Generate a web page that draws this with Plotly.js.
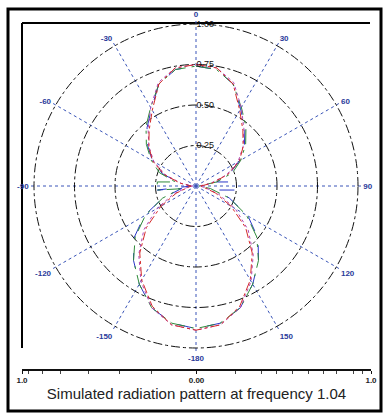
<!DOCTYPE html>
<html>
<head>
<meta charset="utf-8">
<script src="https://cdn.plot.ly/plotly-3.0.1.min.js"></script>
<style>html,body{margin:0;padding:0;background:#fff;}#chart{width:387px;height:414px;}</style>
</head>
<body>
<div id="chart"></div>
<script>
// angles in degrees, clockwise from top (0 = top, 180 = bottom)
const theta = [0,10,20,30,40,50,60,70,80,90,100,110,120,130,140,150,160,170,180,
               190,200,210,220,230,240,250,260,270,280,290,300,310,320,330,340,350,360];
const redR     = [0.75,0.74,0.67,0.54,0.45,0.38,0.31,0.21,0.10,0.03,0.05,0.13,0.25,0.40,0.54,0.67,0.79,0.87,0.89,
                  0.87,0.79,0.67,0.54,0.40,0.25,0.13,0.05,0.03,0.10,0.21,0.31,0.38,0.45,0.54,0.67,0.74,0.75];
const magentaR = [0.75,0.74,0.68,0.56,0.46,0.38,0.30,0.20,0.09,0.02,0.06,0.15,0.28,0.42,0.55,0.68,0.80,0.87,0.89,
                  0.87,0.80,0.68,0.55,0.42,0.28,0.15,0.06,0.02,0.09,0.20,0.30,0.38,0.46,0.56,0.68,0.74,0.75];
const greenTheta = [0,10,20,30,40,50,60,70,79,84,90,100,110,120,130,140,150,160,170,180,
                    190,200,210,220,230,240,250,260,264,270,276,281,290,300,310,320,330,340,350,360];
const greenR   = [0.74,0.73,0.67,0.56,0.48,0.40,0.32,0.24,0.13,0.03,0.02,0.09,0.22,0.36,0.49,0.60,0.70,0.80,0.86,0.88,
                  0.86,0.80,0.70,0.60,0.49,0.36,0.22,0.10,0.24,0.24,0.24,0.13,0.24,0.32,0.40,0.48,0.56,0.67,0.73,0.74];
const blueTheta = [0,10,20,30,40,50,60,70,79,84,90,96,101,110,120,130,140,150,160,170,180,
                   190,200,210,220,230,240,250,260,264,270,280,290,300,310,320,330,340,350,360];
const blueR    = [0.74,0.73,0.67,0.55,0.47,0.39,0.31,0.22,0.13,0.24,0.24,0.24,0.13,0.22,0.37,0.50,0.60,0.70,0.80,0.86,0.88,
                  0.86,0.80,0.70,0.60,0.50,0.37,0.22,0.09,0.24,0.03,0.10,0.22,0.31,0.39,0.47,0.55,0.67,0.73,0.74];

const radialTicks = [0.25,0.5,0.75,1.0];
const radialTickText = ['0.25','0.50','0.75','1.00'];
const angleTicks = [0,30,60,90,120,150,180,210,240,270,300,330];
const angleTickText = ['0','30','60','90','120','150','-180','-150','-120','-90','-60','-30'];
const rulerVals = [-1,0,1];
const rulerText = ['1.0','0.00','1.0'];
const rulerMinor = [-1,-0.96,-0.885,-0.78,-0.62,-0.44,-0.26,0.224,0.37,0.46,0.55,0.64,0.73,0.80,0.897,0.95,1];
const chartTitle = 'Simulated radiation pattern at frequency 1.04';

const W = 387, H = 414;
const px = v => v / W, py = v => 1 - v / H;

function tr(r, th, color, dash) {
  return {type:'scatterpolar', r:r, theta:th, mode:'lines',
    line:{color:color, width:1, dash:dash}, hoverinfo:'skip', showlegend:false};
}

const data = [
  tr(blueR, blueTheta, '#2a36c8', 'longdash'),
  tr(greenR, greenTheta, '#2f8a3a', 'longdashdot'),
  tr(magentaR, theta, '#b04ab8', 'dot'),
  tr(redR, theta, '#d42a2a', 'dashdot'),
  {type:'scatter', x:[], y:[], xaxis:'x', yaxis:'y', showlegend:false, hoverinfo:'skip'}
];

const rMax = 1.03;
const cx = 196, cy = 186, R = 162 * rMax;
const layout = {
  width: W, height: H,
  margin:{l:0,r:0,t:0,b:0},
  paper_bgcolor:'#fff', plot_bgcolor:'rgba(0,0,0,0)',
  font:{family:'Liberation Sans, Arial, sans-serif', color:'#111'},
  showlegend:false,
  polar:{
    domain:{x:[px(cx-R), px(cx+R)], y:[py(cy+R), py(cy-R)]},
    bgcolor:'rgba(0,0,0,0)',
    radialaxis:{range:[0,rMax], tickvals:radialTicks, ticktext:radialTickText,
      angle:90, side:'clockwise', tickangle:90, showline:false, ticks:'',
      gridcolor:'#111', griddash:'dashdot', gridwidth:1,
      tickfont:{size:9, color:'#111'}},
    angularaxis:{rotation:90, direction:'clockwise', tickmode:'array',
      tickvals:angleTicks, ticktext:angleTickText, showline:false,
      ticks:'', gridcolor:'#3a55b8', griddash:'dot', gridwidth:1,
      tickfont:{size:8, color:'#2a3a9a', weight:'bold'}}
  },
  xaxis:{domain:[px(22), px(371)], range:[-1,1], anchor:'free', position:py(369),
    showgrid:false, zeroline:false, showline:true, linecolor:'#111', linewidth:1.5,
    tickmode:'array', tickvals:rulerVals, ticktext:rulerText, ticks:'outside', ticklen:3,
    tickcolor:'#111', tickfont:{size:8, color:'#222', weight:'bold'},
    minor:{tickmode:'array', tickvals:rulerMinor, ticks:'outside', ticklen:3, tickcolor:'#444', showgrid:false},
    title:{text:chartTitle, font:{size:15, color:'#222'}, standoff:2},
    fixedrange:true},
  yaxis:{visible:false, domain:[0,0.05], fixedrange:true},
  shapes:[
    {type:'rect', xref:'paper', yref:'paper', x0:px(8), x1:px(381), y0:py(411), y1:py(9),
      line:{color:'#000', width:3}},
    {type:'line', xref:'paper', yref:'paper', layer:'below', x0:px(22), x1:px(370), y0:py(23), y1:py(23),
      line:{color:'#000', width:2}},
    {type:'line', xref:'paper', yref:'paper', layer:'below', x0:px(22), x1:px(22), y0:py(23), y1:py(348),
      line:{color:'#000', width:2}}
  ]
};

Plotly.newPlot('chart', data, layout, {displayModeBar:false, staticPlot:true});
</script>
</body>
</html>
